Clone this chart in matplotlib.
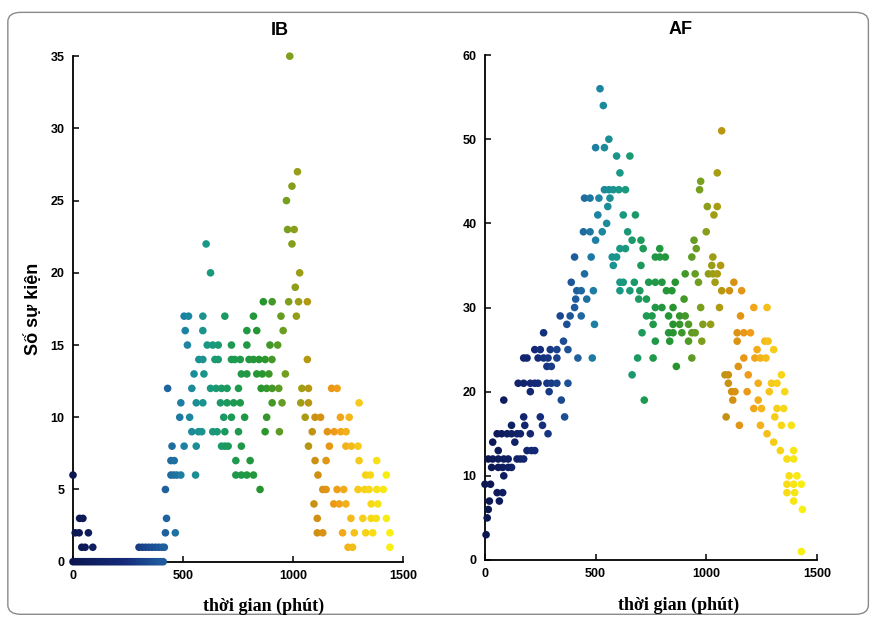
import matplotlib
matplotlib.use("Agg")
import matplotlib.pyplot as plt
from matplotlib.colors import LinearSegmentedColormap, Normalize
from matplotlib.patches import FancyBboxPatch

# ---- data (time in minutes, number of events) ----
ib_rows = {
    0: [0, 10, 20, 30, 40, 50, 60, 70, 80, 90, 100, 110, 120, 130, 140, 150,
        160, 170, 180, 190, 200, 210, 220, 230, 240, 250, 260, 270, 280, 290,
        300, 310, 320, 330, 340, 350, 360, 370, 380, 390, 400, 410],
    1: [40, 55, 90, 300, 315, 330, 345, 360, 375, 390, 405, 415, 1250, 1270, 1440],
    2: [10, 28, 70, 420, 465, 1110, 1135, 1225, 1278, 1330, 1362, 1440],
    3: [30, 45, 425, 1110, 1263, 1317, 1355, 1378, 1424],
    4: [1095, 1185, 1210, 1240, 1355, 1385],
    5: [420, 850, 1135, 1150, 1200, 1230, 1295, 1325, 1345, 1380, 1410],
    6: [0, 445, 458, 472, 490, 557, 740, 765, 790, 820, 1113, 1330, 1351, 1424],
    7: [445, 460, 740, 805, 1100, 1150, 1300, 1380],
    8: [450, 505, 560, 675, 690, 705, 765, 1070, 1165, 1240, 1265, 1295],
    9: [540, 570, 585, 635, 655, 690, 752, 873, 938, 1087, 1156, 1187, 1217, 1241],
    10: [485, 530, 685, 720, 780, 880, 1055, 1100, 1125, 1215, 1255],
    11: [490, 560, 590, 670, 700, 730, 760, 905, 950, 1035, 1070, 1300],
    12: [430, 540, 625, 650, 675, 700, 752, 855, 880, 905, 935, 1040, 1070, 1175, 1200],
    13: [550, 595, 765, 790, 835, 860, 890, 965],
    14: [572, 590, 645, 660, 720, 735, 760, 800, 820, 845, 873, 904, 1065],
    15: [520, 610, 635, 660, 720, 790, 895, 930],
    16: [510, 590, 790, 835, 955],
    17: [505, 525, 590, 690, 820, 945, 1015],
    18: [865, 905, 980, 1025, 1065],
    19: [1010],
    20: [625, 1030],
    22: [605, 995],
    23: [975, 1005],
    25: [970],
    26: [995],
    27: [1020],
    35: [985],
}

af_rows = {
    1: [1430],
    3: [5],
    5: [10],
    6: [15, 1435],
    7: [20, 65, 1395],
    8: [55, 80, 1365, 1400],
    9: [0, 25, 1365, 1395, 1430],
    10: [85, 1375, 1410],
    11: [30, 60, 80, 105, 120],
    12: [15, 35, 60, 85, 105, 145, 160, 175, 1365, 1395],
    13: [60, 190, 210, 225, 1335, 1395],
    14: [35, 135, 1305],
    15: [55, 75, 100, 120, 145, 160, 205, 285, 1275],
    16: [120, 180, 260, 1150, 1245, 1340, 1385],
    17: [175, 250, 360, 1090, 1310],
    18: [1215, 1250, 1320, 1350],
    19: [85, 345, 720, 1120, 1235],
    20: [205, 290, 1115, 1130, 1185, 1285, 1355],
    21: [150, 175, 205, 225, 240, 280, 300, 325, 375, 1100, 1235, 1295, 1320],
    22: [665, 1085, 1100, 1190, 1340],
    23: [280, 300, 865, 1145],
    24: [175, 190, 240, 265, 285, 325, 420, 485, 690, 760, 935, 1170, 1220, 1245, 1270],
    25: [225, 250, 295, 325, 375, 1230, 1305],
    26: [355, 770, 835, 920, 980, 1140, 1265, 1280],
    27: [265, 710, 830, 850, 890, 935, 950, 1140, 1170, 1200],
    28: [370, 495, 760, 850, 880, 920, 985, 1020],
    29: [340, 385, 435, 730, 755, 830, 880, 905, 1155],
    30: [405, 770, 800, 850, 975, 1060, 1215, 1275],
    31: [410, 460, 695, 730, 900],
    32: [415, 435, 490, 610, 655, 700, 820, 845, 1070, 1105, 1160],
    33: [390, 610, 625, 675, 740, 770, 800, 860, 965, 1040, 1125],
    34: [450, 905, 950, 1010, 1030, 1050],
    35: [580, 705, 1025, 1065],
    36: [405, 480, 575, 595, 770, 790, 815, 935, 1030],
    37: [610, 635, 715, 790, 955],
    38: [500, 665, 705, 945],
    39: [445, 475, 530, 645, 1000],
    40: [550],
    41: [510, 625, 680, 1035],
    42: [555, 1005, 1050],
    43: [450, 475, 515, 565],
    44: [540, 560, 580, 605, 635, 970],
    45: [975],
    46: [610, 1050],
    48: [595, 655],
    49: [500, 540],
    50: [560],
    51: [1070],
    54: [535],
    56: [520],
}

ib_time = [t for k, ts in ib_rows.items() for t in ts]
ib_count = [k for k, ts in ib_rows.items() for t in ts]
af_time = [t for k, ts in af_rows.items() for t in ts]
af_count = [k for k, ts in af_rows.items() for t in ts]

# time colour scale: navy -> blue -> teal -> green -> olive -> orange -> yellow
cmap = LinearSegmentedColormap.from_list("day", [
    (0.00, "#0c1650"),
    (0.17, "#142b7a"),
    (0.28, "#1f5a9c"),
    (0.35, "#1d82a4"),
    (0.42, "#1a9888"),
    (0.50, "#1c9a55"),
    (0.60, "#27952e"),
    (0.68, "#7c9f1e"),
    (0.73, "#a89c12"),
    (0.77, "#cf8f12"),
    (0.83, "#f09a18"),
    (0.90, "#f6c81a"),
    (1.00, "#f8f012"),
])
norm = Normalize(0, 1440)

plt.rcParams["font.family"] = ["Liberation Sans", "DejaVu Sans"]

fig = plt.figure(figsize=(8.71, 6.18), dpi=100)
frame = FancyBboxPatch((0.009, 0.006), 0.988, 0.974, boxstyle="round,pad=0,rounding_size=0.015",
                       transform=fig.transFigure, facecolor="white", edgecolor="#8a8a8a",
                       linewidth=1.0, zorder=-10)
fig.patches.append(frame)

ax1 = fig.add_axes([0.0838, 0.0911, 0.379, 0.818])
ax2 = fig.add_axes([0.5568, 0.0939, 0.381, 0.817])

panels = [
    (ax1, ib_time, ib_count, 35, range(0, 36, 5), "IB", 0.627, 0.576),
    (ax2, af_time, af_count, 60, range(0, 61, 10), "AF", 0.588, 0.582),
]

for ax, t, c, ymax, yticks, title, tx, lx in panels:
    ax.set_facecolor("none")
    ax.scatter(t, c, c=t, cmap=cmap, norm=norm, s=30, linewidths=0, clip_on=False, zorder=3)
    ax.set_xlim(0, 1500)
    ax.set_ylim(0, ymax)
    ax.set_xticks([0, 500, 1000, 1500])
    ax.set_yticks(list(yticks))
    for side in ("top", "right"):
        ax.spines[side].set_visible(False)
    for side in ("left", "bottom"):
        ax.spines[side].set_linewidth(1.3)
    ax.tick_params(direction="in", length=4, width=1.1, labelsize=9, pad=6)
    for lab in ax.get_xticklabels() + ax.get_yticklabels():
        lab.set_fontweight("bold")
    ax.text(tx, 1.051, title, transform=ax.transAxes, ha="center", va="center",
            fontsize=13, fontweight="bold")
    ax.set_xlabel("thời gian (phút)", family=["Liberation Serif", "DejaVu Serif"],
                  fontsize=13, fontweight="bold")
    ax.xaxis.set_label_coords(lx, -0.072)

ax1.set_ylabel("Số sự kiện", fontsize=13, fontweight="bold")
ax1.yaxis.set_label_coords(-0.095, 0.5)

fig.savefig("out.png", dpi=100)
